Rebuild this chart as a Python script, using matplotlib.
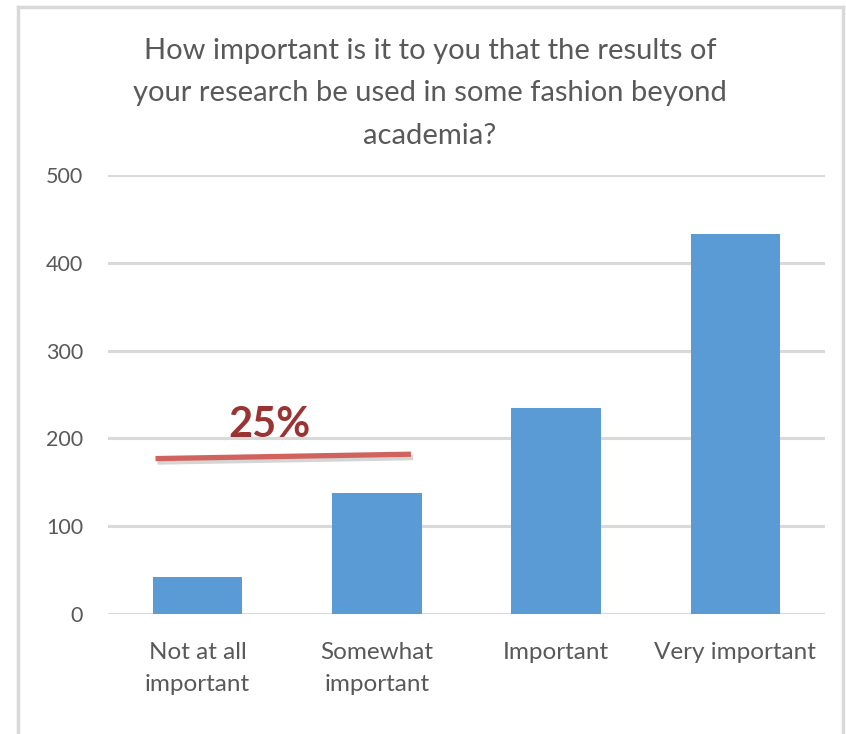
import matplotlib
matplotlib.use('Agg')
import matplotlib.pyplot as plt
import matplotlib.patheffects as pe
from matplotlib.lines import Line2D

categories = ['Not at all\nimportant', 'Somewhat\nimportant', 'Important', 'Very important']
counts = [42, 138, 235, 433]
y_ticks = [0, 100, 200, 300, 400, 500]

# hand-drawn marker line and its label
marker_x = [-0.235, 1.19]
marker_y = [177, 182]
marker_label = '25%'
marker_label_pos = (0.4, 202)

title = ('How important is it to you that the results of\n'
         'your research be used in some fashion beyond\n'
         'academia?')

plt.rcParams['font.family'] = ['Lato', 'DejaVu Sans']
text_color = '#595959'
grid_color = '#D9D9D9'

fig = plt.figure(figsize=(8.46, 7.34), dpi=100)
ax = fig.add_axes([108 / 846, 1 - 614 / 734, (825 - 108) / 846, (614 - 175) / 734])

x = range(len(categories))
ax.bar(x, counts, width=0.5, color='#5B9BD5', zorder=3)

ax.set_xlim(-0.5, len(categories) - 0.5)
ax.set_ylim(0, 500)
ax.set_yticks(y_ticks)
ax.set_xticks(list(x))
ax.set_xticklabels(categories, linespacing=1.68)
ax.tick_params(axis='both', length=0, colors=text_color)
ax.tick_params(axis='x', pad=20, labelsize=17.5)
ax.tick_params(axis='y', pad=18, labelsize=15.5)
ax.yaxis.grid(True, color=grid_color, linewidth=2.2, zorder=0)
for side in ['top', 'right', 'left', 'bottom']:
    ax.spines[side].set_visible(False)

ax.plot(marker_x, marker_y, color='#D0635D', linewidth=3.8, solid_capstyle='butt', zorder=4,
        path_effects=[pe.SimpleLineShadow(offset=(1.5, -2.5), shadow_color='#888888', alpha=0.35),
                      pe.Normal()])
ax.text(marker_label_pos[0], marker_label_pos[1], marker_label, color='#9B3333', fontsize=30,
        fontweight='bold', ha='center', va='baseline', zorder=5)

fig.text(430 / 846, 1 - 38 / 734, title, ha='center', va='top', fontsize=21,
         color=text_color, linespacing=1.78)

# chart frame (no bottom edge visible)
frame_kw = dict(color=grid_color, linewidth=2.5, transform=fig.transFigure)
fig.add_artist(Line2D([18 / 846, 18 / 846], [0, 1 - 7 / 734], **frame_kw))
fig.add_artist(Line2D([18 / 846, 843 / 846], [1 - 7 / 734, 1 - 7 / 734], **frame_kw))
fig.add_artist(Line2D([843 / 846, 843 / 846], [0, 1 - 7 / 734], **frame_kw))

fig.savefig('out.png', dpi=100, facecolor='white')
